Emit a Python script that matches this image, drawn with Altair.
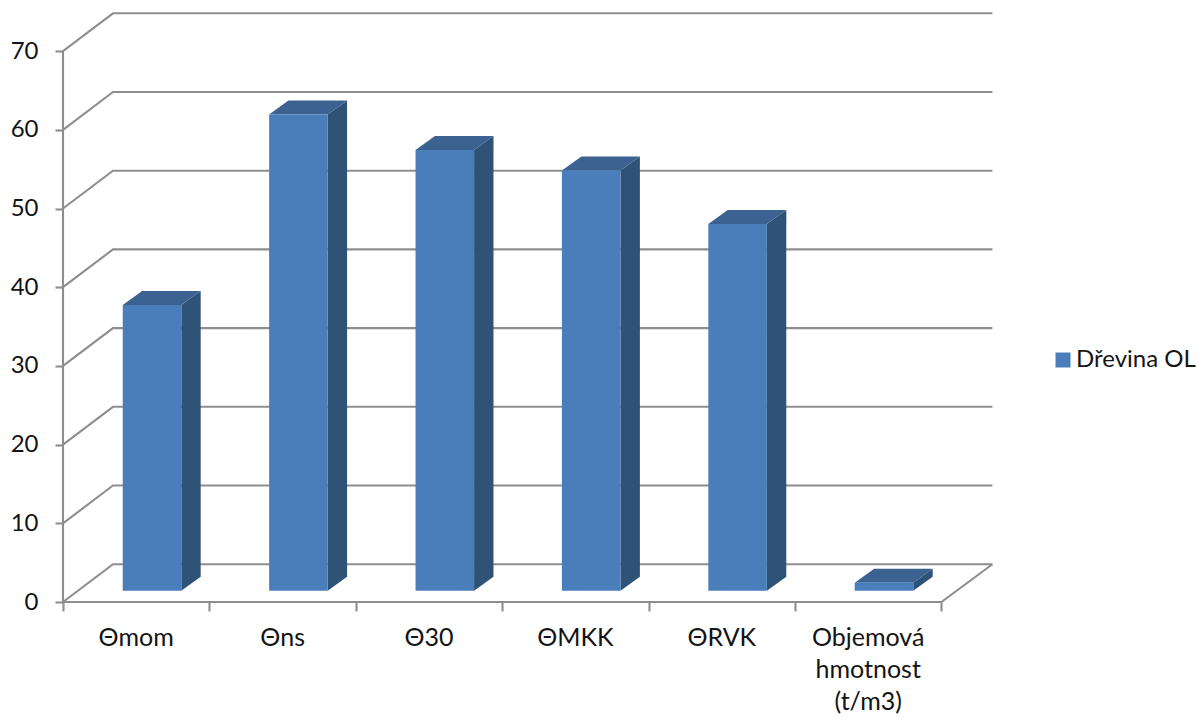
import altair as alt
import pandas as pd

# Series values and labels
categories = ["Θmom", "Θns", "Θ30", "ΘMKK", "ΘRVK", "Objemová\nhmotnost\n(t/m3)"]
values = [36.3, 60.5, 56.0, 53.4, 46.6, 1.0]
series_name = "Dřevina OL"
y_ticks = [0, 10, 20, 30, 40, 50, 60, 70]

# Perspective of the fake 3D box, in axis units
WALL_DX, WALL_DY = 0.3415, 4.8
BAR_DX, BAR_DY = 0.1325, 1.78
BAR_BASE = 1.436
BAR_LEFT, BAR_WIDTH = 0.408, 0.4
N = len(categories)
X_MAX, Y_MAX = 930 / 146.4, 589 / 7.87
X_END = N + WALL_DX + 0.007

FONT = "Lato"
TEXT = "#141414"
GRID = "#8e8e8e"
LINE_W = 2.1
FRONT, SIDE, TOP = "#4a7ebb", "#2f5277", "#3b6290"

x_scale = alt.Scale(domain=[0, X_MAX], nice=False, zero=False)
y_scale = alt.Scale(domain=[0, Y_MAX], nice=False, zero=False)

# Wall gridlines run up the side wall, then along the back wall
wall_rows = []
for v in y_ticks:
    wall_rows += [
        {"level": v, "i": 0, "x": 0, "y": v},
        {"level": v, "i": 1, "x": WALL_DX, "y": v + WALL_DY},
        {"level": v, "i": 2, "x": X_END, "y": v + WALL_DY},
    ]
# Front and right edges of the floor
for i, (px, py) in enumerate([(0, 0), (N, 0), (X_END, WALL_DY)]):
    wall_rows.append({"level": -1, "i": i, "x": px, "y": py})
walls = alt.Chart(pd.DataFrame(wall_rows)).mark_line(
    color=GRID, strokeWidth=LINE_W, clip=False
).encode(
    x=alt.X("x:Q", scale=x_scale, axis=alt.Axis(
        values=list(range(N + 1)), labels=False, domain=False, grid=False, title=None,
        tickColor=GRID, tickWidth=LINE_W, tickSize=9)),
    y=alt.Y("y:Q", scale=y_scale, axis=alt.Axis(
        values=y_ticks, domain=False, grid=False, title=None,
        tickColor=GRID, tickWidth=LINE_W, tickSize=8, labelPadding=17,
        labelFont=FONT, labelFontSize=24, labelColor=TEXT)),
    detail="level:N",
    order="i:Q",
)

# Vertical axis line from 0 to the top tick
axis_line = alt.Chart(pd.DataFrame({"x": [0], "y": [y_ticks[0]], "y2": [y_ticks[-1]]})).mark_rule(
    color=GRID, strokeWidth=LINE_W
).encode(
    x=alt.X("x:Q", scale=x_scale),
    y=alt.Y("y:Q", scale=y_scale),
    y2="y2:Q",
)

# Side and top faces are parallelograms offset from each bar's front face
side_rows, top_rows, front_rows = [], [], []
for i, v in enumerate(values):
    xl = i + BAR_LEFT
    xr = xl + BAR_WIDTH
    top = BAR_BASE + v
    front_rows.append({"x": xl, "x2": xr, "y": BAR_BASE, "y2": top, "series": series_name})
    for t in (0, 1):
        side_rows.append({"bar": i, "x": xr + t * BAR_DX,
                          "lo": BAR_BASE + t * BAR_DY, "hi": top + t * BAR_DY})
        top_rows.append({"bar": i, "x": xl + t * BAR_DX, "x2": xr + t * BAR_DX,
                         "y": top + t * BAR_DY})

side = alt.Chart(pd.DataFrame(side_rows)).mark_area(color=SIDE, line=False).encode(
    x=alt.X("x:Q", scale=x_scale),
    y=alt.Y("lo:Q", scale=y_scale, stack=None),
    y2="hi:Q",
    detail="bar:N",
)
top_face = alt.Chart(pd.DataFrame(top_rows)).mark_area(color=TOP, orient="horizontal").encode(
    x=alt.X("x:Q", scale=x_scale, stack=None),
    x2="x2:Q",
    y=alt.Y("y:Q", scale=y_scale),
    detail="bar:N",
)
front = alt.Chart(pd.DataFrame(front_rows)).mark_rect().encode(
    x=alt.X("x:Q", scale=x_scale),
    x2="x2:Q",
    y=alt.Y("y:Q", scale=y_scale),
    y2="y2:Q",
    color=alt.Color("series:N", scale=alt.Scale(domain=[series_name], range=[FRONT]), legend=alt.Legend(
        title=None, orient="none", legendX=988, legendY=335, padding=0,
        symbolType="square", symbolSize=225, symbolStrokeWidth=0, symbolOpacity=1,
        labelFont=FONT, labelFontSize=24, labelColor=TEXT, labelOffset=1,
        labelLimit=200)),
)

# Category names under the floor, centred between the ticks
label_df = pd.DataFrame({"x": [i + 0.5 for i in range(N)], "label": categories})
labels = alt.Chart(label_df).mark_text(
    font=FONT, fontSize=25, color=TEXT, align="center", baseline="alphabetic",
    lineBreak="\n", lineHeight=32, dy=44,
).encode(
    x=alt.X("x:Q", scale=x_scale),
    y=alt.value(589),
    text="label:N",
)

chart = alt.layer(walls, axis_line, side, top_face, front, labels).properties(
    width=930,
    height=589,
    autosize=alt.AutoSizeParams(type="none"),
    padding={"left": 63, "top": 13, "right": 206, "bottom": 116},
    background="white",
).configure_view(stroke=None)

chart.save("out.html", embed_options={"renderer": "svg", "actions": False})
